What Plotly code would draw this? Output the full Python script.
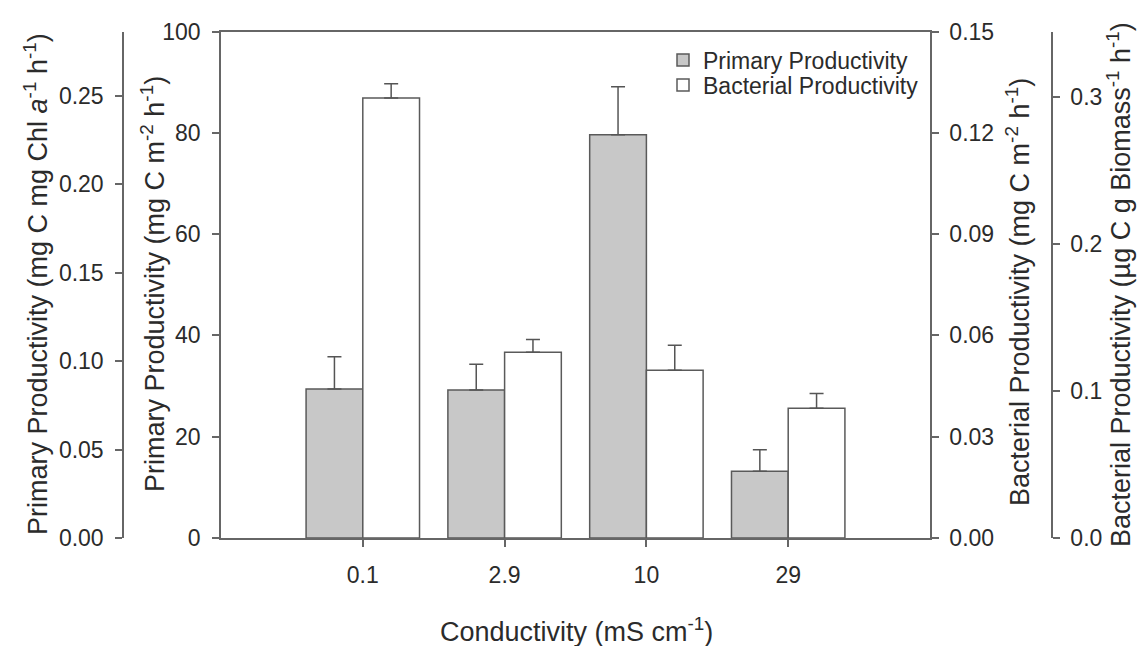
import plotly.graph_objects as go

# ---- data ----
categories = ["0.1", "2.9", "10", "29"]
primary = [29.4, 29.2, 79.6, 13.2]
primary_err = [6.4, 5.1, 9.5, 4.2]
bacterial = [0.1303, 0.0550, 0.0497, 0.0384]
bacterial_err = [0.0042, 0.0038, 0.0074, 0.0044]
left_outer_ticks = [0.00, 0.05, 0.10, 0.15, 0.20, 0.25]
left_inner_ticks = [0, 20, 40, 60, 80, 100]
right_inner_ticks = [0.00, 0.03, 0.06, 0.09, 0.12, 0.15]
right_outer_ticks = [0.0, 0.1, 0.2, 0.3]

W, H = 1139, 646
FONT = "Liberation Sans, Arial, sans-serif"
TXT = "#2b2b2b"
LINE = "#666666"
x = list(range(1, len(categories) + 1))

x0, x1 = 221 / W, 930 / W
y0, y1 = (H - 538) / H, (H - 31.5) / H

fig = go.Figure()
fig.add_trace(go.Bar(
    x=x, y=primary, name="Primary Productivity", width=0.4, offset=-0.4,
    marker=dict(color="#c8c8c8", line=dict(color="#5a5a5a", width=1.5)),
    error_y=dict(type="data", array=primary_err, arrayminus=[0] * len(primary),
                 symmetric=False, color="#555555", thickness=1.5, width=7),
    xaxis="x", yaxis="y", legend="legend",
))
fig.add_trace(go.Bar(
    x=x, y=bacterial, name="Bacterial Productivity", width=0.4, offset=0,
    marker=dict(color="#ffffff", line=dict(color="#5a5a5a", width=1.5)),
    error_y=dict(type="data", array=bacterial_err, arrayminus=[0] * len(bacterial),
                 symmetric=False, color="#555555", thickness=1.5, width=7),
    xaxis="x", yaxis="y3", legend="legend2",
))

tickfont = dict(family=FONT, size=23, color=TXT)
common = dict(showgrid=False, zeroline=False, showline=True, linecolor=LINE, linewidth=1.5,
              ticks="outside", ticklen=7, tickwidth=1.5, tickcolor=LINE, tickfont=tickfont,
              automargin=False)

legfont = dict(family=FONT, size=23, color=TXT)
fig.update_layout(
    width=W, height=H, margin=dict(l=0, r=0, t=0, b=0),
    paper_bgcolor="white", plot_bgcolor="white",
    showlegend=True,
    legend=dict(x=663 / W, y=1 - 60 / H, xanchor="left", yanchor="middle",
                font=legfont, bgcolor="rgba(0,0,0,0)"),
    legend2=dict(x=663 / W, y=1 - 85 / H, xanchor="left", yanchor="middle",
                 font=legfont, bgcolor="rgba(0,0,0,0)"),
    xaxis=dict(domain=[x0, x1], range=[0, 5], tickvals=x, ticktext=categories,
               anchor="y", mirror=True, ticklabelstandoff=9, **common),
    yaxis=dict(domain=[y0, y1], range=[0, 100], tickvals=left_inner_ticks,
               anchor="x", side="left", ticklabelstandoff=7, **common),
    yaxis2=dict(domain=[y0, y1], range=[0, 0.2863], tickvals=left_outer_ticks,
                tickformat=".2f", overlaying="y", anchor="free", position=123 / W,
                side="left", ticklabelstandoff=7, **common),
    yaxis3=dict(domain=[y0, y1], range=[0, 0.15], tickvals=right_inner_ticks,
                tickformat=".2f", overlaying="y", anchor="x", side="right",
                ticklabelstandoff=6, **common),
    yaxis4=dict(domain=[y0, y1], range=[0, 0.3446], tickvals=right_outer_ticks,
                tickformat=".1f", overlaying="y", anchor="free", position=1052 / W,
                side="right", ticklabelstandoff=6, **common),
)

# invisible traces so yaxis2 / yaxis4 are drawn
for ya in ["y2", "y4"]:
    fig.add_trace(go.Scatter(x=[None], y=[None], yaxis=ya, xaxis="x",
                             showlegend=False, hoverinfo="skip"))

titlefont = dict(family=FONT, size=27, color=TXT)
ann = [
    dict(text="Primary Productivity (mg C mg Chl <i>a</i><sup>-1</sup> h<sup>-1</sup>)",
         x=36 / W, y=1 - 284 / H, textangle=-90),
    dict(text="Primary Productivity (mg C m<sup>-2</sup> h<sup>-1</sup>)",
         x=153 / W, y=1 - 284 / H, textangle=-90),
    dict(text="Bacterial Productivity (mg C m<sup>-2</sup> h<sup>-1</sup>)",
         x=1018 / W, y=1 - 292 / H, textangle=-90),
    dict(text="Bacterial Productivity (\u00b5g C g Biomass<sup>-1</sup> h<sup>-1</sup>)",
         x=1119 / W, y=1 - 285 / H, textangle=-90),
    dict(text="Conductivity (mS cm<sup>-1</sup>)", x=576 / W, y=1 - 630 / H, textangle=0),
]
for a in ann:
    fig.add_annotation(xref="paper", yref="paper", showarrow=False,
                       xanchor="center", yanchor="middle", font=titlefont, **a)

fig.write_html("out.html")
